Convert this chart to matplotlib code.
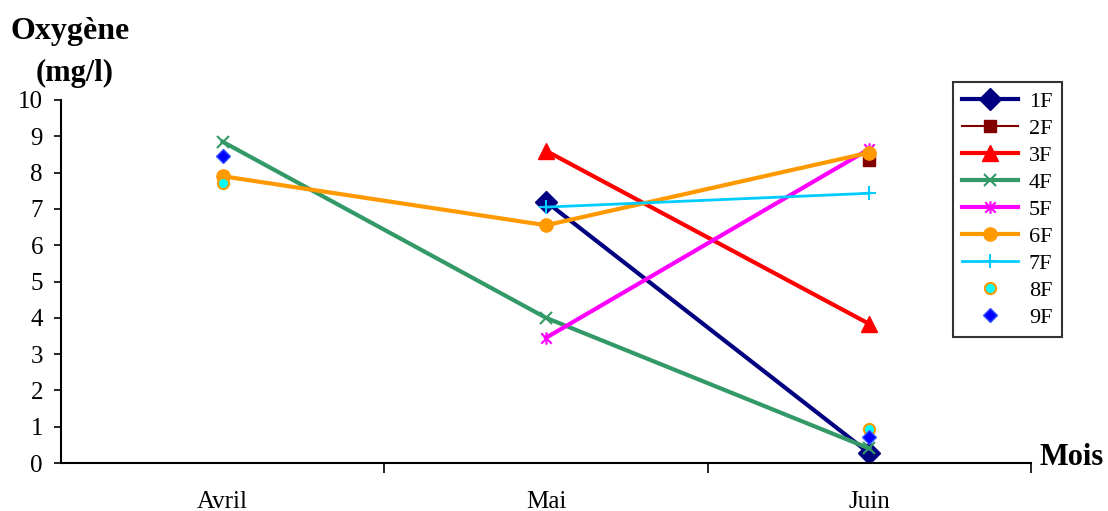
import numpy as np
import matplotlib
matplotlib.use("Agg")
import matplotlib.pyplot as plt
from matplotlib.path import Path

months = ["Avril", "Mai", "Juin"]
nan = np.nan
s1F = [nan, 7.2, 0.27]
s2F = [nan, nan, 8.35]
s3F = [nan, 8.6, 3.83]
s4F = [8.85, 4.0, 0.4]
s5F = [nan, 3.45, 8.65]
s6F = [7.9, 6.55, 8.55]
s7F = [nan, 7.05, 7.43]
s8F = [7.7, nan, 0.95]
s9F = [8.45, nan, 0.72]
yticks = list(range(0, 11))

plt.rcParams['font.family'] = ['Liberation Serif', 'DejaVu Serif']

star = Path([(-1, -1), (1, 1), (-1, 1), (1, -1), (0, -1.2), (0, 1.2)],
            [Path.MOVETO, Path.LINETO, Path.MOVETO, Path.LINETO, Path.MOVETO, Path.LINETO])

fig = plt.figure(figsize=(11.08, 5.11), dpi=100)
ax = fig.add_axes([61/1108, 48/511, (1031-61)/1108, (463-100)/511])
x = np.arange(len(months))

ax.plot(x, s1F, color='#000080', lw=3, marker='D', ms=11, label='1F')
ax.plot(x, s2F, color='#800000', lw=1.5, marker='s', ms=8, label='2F')
ax.plot(x, s3F, color='#FF0000', lw=3, marker='^', ms=11, label='3F')
ax.plot(x, s4F, color='#339966', lw=3, marker='x', ms=8, mew=1.5, label='4F')
ax.plot(x, s5F, color='#FF00FF', lw=3, marker=star, ms=9, mew=1.5, label='5F')
ax.plot(x, s6F, color='#FF9900', lw=3, marker='o', ms=9.5, label='6F')
ax.plot(x, s7F, color='#00CCFF', lw=2, marker='+', ms=10, mew=1.5, label='7F')
ax.plot(x, s8F, ls='none', marker='o', ms=8, mfc='#00FFFF', mec='#FF9900', mew=1.5, label='8F')
ax.plot(x, s9F, ls='none', marker='D', ms=7, mfc='#0000FF', mec='#3355FF', mew=1, label='9F')

ax.set_xlim(-0.5, 2.5)
ax.set_ylim(0, 10)
ax.set_yticks(yticks)
ax.set_yticklabels([str(v) for v in yticks], fontsize=18)
ax.set_xticks([0.5, 1.5, 2.5])
ax.set_xticklabels([])
ax.set_xticks(x, minor=True)
ax.set_xticklabels(months, minor=True, fontsize=18)
ax.tick_params(axis='x', which='minor', length=0, pad=20)
ax.tick_params(axis='x', which='major', direction='out', length=7, width=1.2)
ax.tick_params(axis='y', direction='out', length=5, width=1.2, pad=8)
for s in ['top', 'right']:
    ax.spines[s].set_visible(False)
for s in ['left', 'bottom']:
    ax.spines[s].set_linewidth(1.5)

leg = fig.legend(loc='upper left', bbox_to_anchor=(953/1108, 1 - 82/511),
                 fontsize=16, frameon=True, fancybox=False, edgecolor='black',
                 handlelength=2.5, labelspacing=0.29, borderpad=0.42, handletextpad=0.5,
                 borderaxespad=0)
leg.get_frame().set_linewidth(1.5)

fig.text(10/1108, 1 - 32/511, "Oxygène", fontsize=23, fontweight='bold', ha='left', va='center')
fig.text(75/1108, 1 - 73/511, "(mg/l)", fontsize=22, fontweight='bold', ha='center', va='center')
fig.text(1040/1108, 1 - 457/511, "Mois", fontsize=22, fontweight='bold', ha='left', va='center')

fig.savefig("out.png", dpi=100)
